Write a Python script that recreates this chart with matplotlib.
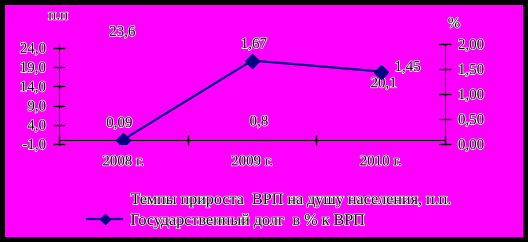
import matplotlib
matplotlib.use('Agg')
import matplotlib.pyplot as plt
import matplotlib.patheffects as pe
from matplotlib.patches import Rectangle

# данные
years = ['2008 г.', '2009 г.', '2010 г.']
gdp_growth = [23.6, 0.8, 20.1]      # п.п., левая ось
debt_share = [0.09, 1.67, 1.45]     # %, правая ось
gdp_name = 'Темпы прироста  ВРП на душу населения, п.п.'
debt_name = 'Государственный долг  в % к ВРП'

BG = '#ff00ff'
NAVY = '#000080'
plt.rcParams['font.family'] = ['Liberation Serif', 'DejaVu Serif']
plt.rcParams['font.size'] = 10.8
halo = [pe.withStroke(linewidth=1.1, foreground='white')]

W, H = 528, 242
fig = plt.figure(figsize=(W / 100, H / 100), dpi=100, facecolor=BG)
ax = fig.add_axes([59 / W, 1 - 144 / H, 386 / W, 100 / H])
ax.set_facecolor(BG)
ax2 = ax.twinx()

x = list(range(len(years)))

# ряд 1 без линии и маркеров - видны только подписи
ax.plot(x, gdp_growth, ls='none', label=gdp_name)
ax2.plot(x, debt_share, color=NAVY, lw=1.6, marker='D', ms=7.5,
         label=debt_name)

ax.set_xlim(-0.5, 2.5)
ax.set_ylim(-1, 25)
ax2.set_ylim(0, 2)

ax.set_yticks([-1, 4, 9, 14, 19, 24])
ax.set_yticklabels([f'{v:.1f}'.replace('.', ',') for v in ax.get_yticks()])
ax2.set_yticks([0, 0.5, 1, 1.5, 2])
ax2.set_yticklabels([f'{v:.2f}'.replace('.', ',') for v in ax2.get_yticks()])

ax.set_xticks([-0.5, 0.5, 1.5, 2.5])
ax.set_xticklabels([])
ax.set_xticks(x, minor=True)
ax.set_xticklabels(years, minor=True)

for a in (ax, ax2):
    a.spines['top'].set_visible(False)
ax.spines['right'].set_visible(False)
ax2.spines['bottom'].set_visible(False)
ax2.spines['left'].set_visible(False)
ax.spines['bottom'].set_position(('data', 0))

ax.tick_params(axis='y', direction='inout', length=8.6, width=1, pad=5)
ax2.tick_params(axis='y', direction='inout', length=8.6, width=1, pad=5)
ax.tick_params(axis='x', which='major', direction='inout', length=6.5, width=1)
ax.tick_params(axis='x', which='minor', length=0, pad=11)

for t in ax.get_yticklabels() + ax2.get_yticklabels() + ax.get_xticklabels(minor=True):
    t.set_path_effects(halo)

# подписи данных (смещения в пикселях)
gdp_off = [(-1, 17), (7, 15), (3, -21)]
debt_off = [(-4, 16), (2, 16), (27, 4)]
for i, v in enumerate(gdp_growth):
    ax.annotate(f'{v:.1f}'.replace('.', ','), (x[i], v), xytext=gdp_off[i],
                textcoords='offset pixels', ha='center', va='center',
                annotation_clip=False, path_effects=halo)
for i, v in enumerate(debt_share):
    ax2.annotate(f'{v:.2f}'.replace('.', ','), (x[i], v), xytext=debt_off[i],
                 textcoords='offset pixels', ha='center', va='center',
                 annotation_clip=False, path_effects=halo)

fig.text(58 / W, 1 - 16 / H, 'п.п', ha='center', va='center', path_effects=halo)
fig.text(454 / W, 1 - 24 / H, '%', ha='center', va='center', path_effects=halo)

h1, l1 = ax.get_legend_handles_labels()
h2, l2 = ax2.get_legend_handles_labels()
leg = fig.legend(h1 + h2, l1 + l2, loc='upper left',
                 bbox_to_anchor=(87 / W, 1 - 192 / H), frameon=False,
                 borderpad=0, borderaxespad=0, handlelength=2.2,
                 handletextpad=0.5, labelspacing=0.3, markerscale=0.7,
                 prop={'size': 11.6})
for t in leg.get_texts():
    t.set_path_effects(halo)

# чёрная рамка
fig.patches.append(Rectangle((0, 0), 1, 1, transform=fig.transFigure,
                             fill=False, edgecolor='black', linewidth=7))

fig.savefig('out.png', dpi=100, facecolor=BG)
